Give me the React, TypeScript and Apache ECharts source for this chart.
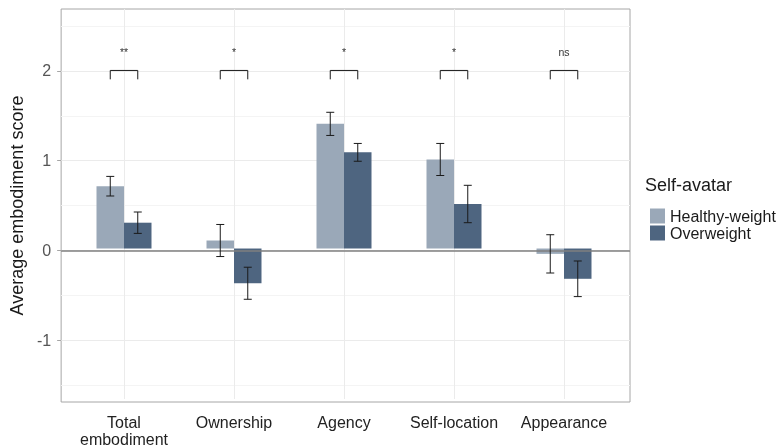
import React, { useEffect, useRef } from 'react';
import * as echarts from 'echarts';

const categories = ['Total\nembodiment', 'Ownership', 'Agency', 'Self-location', 'Appearance'];
const seriesNames = ['Healthy-weight', 'Overweight'];
const healthyMeans = [0.70, 0.09, 1.40, 1.00, -0.06];
const overweightMeans = [0.29, -0.39, 1.08, 0.50, -0.34];
const healthyErr = [0.11, 0.18, 0.13, 0.18, 0.215];
const overweightErr = [0.12, 0.18, 0.10, 0.21, 0.20];
const sigLabels = ['**', '*', '*', '*', 'ns'];
const bracketTop = 2.0;
const bracketBottom = 1.9;
const sigLabelY = 2.21;
const yTicks = [-1, 0, 1, 2];
const yMinorTicks = [-1.5, -0.5, 0.5, 1.5, 2.5];
const yMin = -1.69;
const yMax = 2.69;

const FONT = '"Liberation Sans", Arial, sans-serif';
const colors = ['#9aa8b8', '#4e6580'];

export default function App() {
  const ref = useRef<HTMLDivElement>(null);
  useEffect(() => {
    if (!ref.current) return;
    const chart = echarts.init(ref.current, null, { renderer: 'svg' });

    const errData: number[][] = [];
    healthyMeans.forEach((m, i) => errData.push([i, m - healthyErr[i], m + healthyErr[i], 0]));
    overweightMeans.forEach((m, i) => errData.push([i, m - overweightErr[i], m + overweightErr[i], 1]));
    const sigData = sigLabels.map((s, i) => [i, bracketBottom, bracketTop, sigLabelY]);

    const gridTop = 9;
    const gridHeight = 393;
    const option: any = {
      animation: false,
      textStyle: { fontFamily: FONT },
      grid: [
        { left: 58, top: gridTop, width: 572, height: gridHeight, show: true, borderColor: '#a6a6a6', borderWidth: 1, backgroundColor: 'transparent' },
        { left: 69, top: gridTop, width: 550, height: gridHeight },
      ],
      xAxis: [
        { gridIndex: 0, type: 'value', min: 0, max: 1, show: false },
        {
          gridIndex: 1,
          type: 'category',
          data: categories,
          axisLine: { show: false },
          axisTick: { show: true, alignWithLabel: true, length: 3, lineStyle: { color: '#a6a6a6' } },
          axisLabel: { fontSize: 16, color: '#222', margin: 15, lineHeight: 17, fontFamily: FONT, interval: 0 },
          splitLine: { show: false },
        },
      ],
      yAxis: [
        {
          gridIndex: 0,
          type: 'value',
          min: yMin,
          max: yMax,
          name: 'Average embodiment score',
          nameLocation: 'middle',
          nameGap: 24,
          nameTextStyle: { fontSize: 18, color: '#1a1a1a', fontFamily: FONT },
          axisLine: { show: false },
          axisTick: { show: true, length: 4, lineStyle: { color: '#a6a6a6' }, customValues: yTicks },
          axisLabel: { fontSize: 16, color: '#555', margin: 10, customValues: yTicks, fontFamily: FONT },
          splitLine: { show: true, lineStyle: { color: '#ebebeb', width: 1 } },
        },
        { gridIndex: 1, type: 'value', min: yMin, max: yMax, show: false, splitLine: { show: false } },
      ],
      legend: {
        data: seriesNames,
        orient: 'vertical',
        left: 645,
        top: 203,
        itemWidth: 15,
        itemHeight: 15,
        itemGap: 1,
        icon: 'rect',
        textStyle: { fontSize: 16, color: '#1a1a1a', lineHeight: 15, fontFamily: FONT },
        selectedMode: false,
      },
      graphic: [
        { type: 'text', left: 645, top: 176, style: { text: 'Self-avatar', fontSize: 18, fill: '#1a1a1a', fontFamily: FONT } },
      ],
      series: [
        {
          type: 'line',
          xAxisIndex: 0,
          yAxisIndex: 0,
          data: [],
          silent: true,
          markLine: {
            z: 1,
            silent: true,
            symbol: ['none', 'none'],
            label: { show: false },
            lineStyle: { color: '#f4f4f4', width: 1, type: 'solid' },
            data: yMinorTicks.map((v) => ({ yAxis: v })),
          },
        },
        {
          type: 'line',
          xAxisIndex: 1,
          yAxisIndex: 1,
          data: [],
          silent: true,
          markLine: {
            z: 1,
            silent: true,
            symbol: ['none', 'none'],
            label: { show: false },
            lineStyle: { color: '#ebebeb', width: 1, type: 'solid' },
            data: categories.map((c) => ({ xAxis: c })),
          },
        },
        {
          name: seriesNames[0],
          type: 'bar',
          xAxisIndex: 1,
          yAxisIndex: 1,
          data: healthyMeans,
          barWidth: '25%',
          barGap: '0%',
          itemStyle: { color: colors[0] },
          z: 2,
        },
        {
          name: seriesNames[1],
          type: 'bar',
          xAxisIndex: 1,
          yAxisIndex: 1,
          data: overweightMeans,
          barWidth: '25%',
          barGap: '0%',
          itemStyle: { color: colors[1] },
          z: 2,
        },
        {
          type: 'line',
          xAxisIndex: 0,
          yAxisIndex: 0,
          data: [],
          silent: true,
          markLine: {
            z: 3,
            silent: true,
            symbol: ['none', 'none'],
            label: { show: false },
            lineStyle: { color: '#7f7f7f', width: 1.5, type: 'solid' },
            data: [{ yAxis: 0 }],
          },
        },
        {
          type: 'custom',
          xAxisIndex: 1,
          yAxisIndex: 1,
          data: errData,
          encode: { x: 0, y: [1, 2] },
          z: 4,
          silent: true,
          renderItem: (params: any, api: any) => {
            const i = api.value(0);
            const lo = api.value(1);
            const hi = api.value(2);
            const g = api.value(3);
            const band = api.size([1, 0])[0];
            const off = (g === 0 ? -1 : 1) * band * 0.125;
            const pTop = api.coord([i, hi]);
            const pBot = api.coord([i, lo]);
            const x = pTop[0] + off;
            const cap = 4;
            const style = { stroke: '#1a1a1a', lineWidth: 1 };
            return {
              type: 'group',
              children: [
                { type: 'line', shape: { x1: x, y1: pTop[1], x2: x, y2: pBot[1] }, style },
                { type: 'line', shape: { x1: x - cap, y1: pTop[1], x2: x + cap, y2: pTop[1] }, style },
                { type: 'line', shape: { x1: x - cap, y1: pBot[1], x2: x + cap, y2: pBot[1] }, style },
              ],
            };
          },
        },
        {
          type: 'custom',
          xAxisIndex: 1,
          yAxisIndex: 1,
          data: sigData,
          encode: { x: 0, y: [1, 2] },
          z: 4,
          silent: true,
          renderItem: (params: any, api: any) => {
            const i = api.value(0);
            const bot = api.value(1);
            const top = api.value(2);
            const ly = api.value(3);
            const band = api.size([1, 0])[0];
            const off = band * 0.125;
            const pT = api.coord([i, top]);
            const pB = api.coord([i, bot]);
            const pL = api.coord([i, ly]);
            const style = { stroke: '#1a1a1a', lineWidth: 1, fill: 'none' };
            return {
              type: 'group',
              children: [
                {
                  type: 'polyline',
                  shape: { points: [[pT[0] - off, pB[1]], [pT[0] - off, pT[1]], [pT[0] + off, pT[1]], [pT[0] + off, pB[1]]] },
                  style,
                },
                {
                  type: 'text',
                  x: pL[0],
                  y: pL[1],
                  style: { text: sigLabels[params.dataIndex], fontSize: 10.5, fill: '#333', align: 'center', verticalAlign: 'middle', fontFamily: FONT },
                },
              ],
            };
          },
        },
      ],
    };
    chart.setOption(option);
    return () => chart.dispose();
  }, []);
  return <div ref={ref} style={{ position: 'fixed', left: 0, top: 0, width: 780, height: 448 }} />;
}
